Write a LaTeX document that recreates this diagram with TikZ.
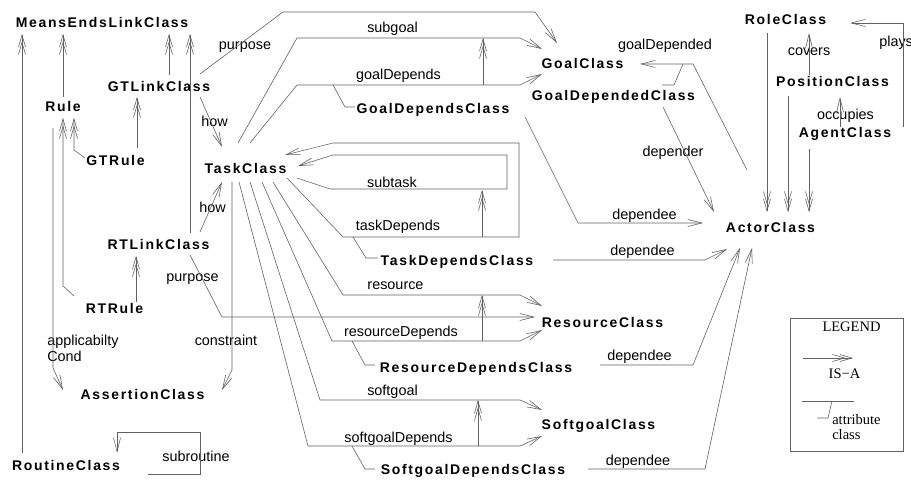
\documentclass[tikz,border=0pt]{standalone}
\usepackage{fontspec}
\setmainfont{Liberation Serif}
\setsansfont{Liberation Sans}
\newfontfamily\clsfont{Liberation Sans}[LetterSpace=12]
\usetikzlibrary{arrows.meta}
\begin{document}
\begin{tikzpicture}[x=1pt,y=-1pt,
  line width=0.6pt,
  color=black!62,
  cls/.style={font=\clsfont\bfseries\fontsize{14}{16}\selectfont, inner sep=0pt, anchor=base, text=black},
  lbl/.style={font=\sffamily\fontsize{14.4}{16}\selectfont, inner sep=0pt, anchor=base, text=black},
  leg/.style={font=\rmfamily\fontsize{14.5}{13}\selectfont, inner sep=0pt, text=black},
  isa/.style={-{Straight Barb[length=12pt,width=7pt,sep=-6pt]Straight Barb[length=12pt,width=7pt]}},
  att/.style={-{Straight Barb[length=14pt,width=7pt]}}]
\useasboundingbox (0,0) rectangle (911,481);

% ---------- class nodes ----------
\node[cls] (MEL) at (102,28) {MeansEndsLinkClass};
\node[cls] (Rule) at (63,112) {Rule};
\node[cls] (GTL) at (159,92) {GTLinkClass};
\node[cls] (GTR) at (115.5,166) {GTRule};
\node[cls] (Task) at (245.5,174) {TaskClass};
\node[cls] (RTL) at (158.5,250) {RTLinkClass};
\node[cls] (RTR) at (114.5,314) {RTRule};
\node[cls] (Assert) at (142.5,399) {AssertionClass};
\node[cls] (Routine) at (66,470) {RoutineClass};
\node[cls] (Goal) at (582.5,69) {GoalClass};
\node[cls] (GDs) at (433,114) {GoalDependsClass};
\node[cls] (GDd) at (613.5,101) {GoalDependedClass};
\node[cls] (Role) at (785.5,25) {RoleClass};
\node[cls] (Pos) at (832.5,87) {PositionClass};
\node[cls] (Agent) at (845,138) {AgentClass};
\node[cls] (Actor) at (770.5,233) {ActorClass};
\node[cls] (TDs) at (457,266) {TaskDependsClass};
\node[cls] (Res) at (602.5,327) {ResourceClass};
\node[cls] (RDs) at (476,372) {ResourceDependsClass};
\node[cls] (Soft) at (598.5,429) {SoftgoalClass};
\node[cls] (SDs) at (473,474) {SoftgoalDependsClass};

% ---------- labels ----------
\node[lbl] (l1) at (245,50) {purpose};
\node[lbl] (l2) at (214.5,127) {how};
\node[lbl] (l3) at (392.5,33) {subgoal};
\node[lbl] (l4) at (398.5,80) {goalDepends};
\node[lbl] (l5) at (392,188) {subtask};
\node[lbl] (l6) at (665,50) {goalDepended};
\node[lbl] (l7) at (809,56) {covers};
\node[lbl,anchor=base west] (l8) at (879,47) {plays};
\node[lbl] (l9) at (845.5,120) {occupies};
\node[lbl] (l10) at (673,157) {depender};
\node[lbl] (l11) at (644.5,220) {dependee};
\node[lbl] (l12) at (642.5,256) {dependee};
\node[lbl] (l13) at (639.5,360) {dependee};
\node[lbl] (l14) at (638,465) {dependee};
\node[lbl] (l15) at (398,231) {taskDepends};
\node[lbl] (l16) at (395.5,290) {resource};
\node[lbl] (l17) at (401,336) {resourceDepends};
\node[lbl] (l18) at (392.5,395) {softgoal};
\node[lbl] (l19) at (398.5,442) {softgoalDepends};
\node[lbl] (l20) at (212.5,213) {how};
\node[lbl] (l21) at (192.5,282) {purpose};
\node[lbl,anchor=north west,align=left] (l22) at (47,335) {applicabilty\\Cond};
\node[lbl] (l23) at (226,345) {constraint};
\node[lbl] (l24) at (196,461) {subroutine};

% ---------- IS-A links ----------
\draw[isa] (22,453) -- (22,34);
\draw[isa] (63,97) -- (63,34);
\draw[isa] (169,75) -- (169,34);
\draw[isa] (190,233) -- (190,34);
\draw[isa] (85,158) -- (74,150) -- (74,118);
\draw[isa] (74,296) -- (63,286) -- (63,118);
\draw[isa] (137,148) -- (137,97);
\draw[isa] (136,302) -- (136,256);
\draw[isa] (767,33) -- (767,212);
\draw[isa] (788,96) -- (788,212);
\draw[isa] (809,149) -- (809,212);
\draw[isa] (483,85) -- (483,38);
\draw[isa] (482,237) -- (482,190);
\draw[isa] (482,341) -- (482,295);
\draw[isa] (478,446) -- (478,400);

% ---------- attribute links ----------
\draw[att] (200,74) -- (283,12) -- (535,12) -- (557,43);
\draw[att] (238,143) -- (297,38) -- (520,38) -- (542,49);
\draw[att] (250,143) -- (297,85) -- (520,85) -- (542,74);
\draw[att] (200,97) -- (222,147);
\draw[att] (200,232) -- (222,182);
\draw[att] (297,178) -- (330,189) -- (507,189) -- (507,155) -- (333,155) -- (298,166);
\draw[att] (287,178) -- (343,237) -- (519,237) -- (519,143) -- (333,143) -- (285,155);
\draw[att] (273,182) -- (343,295) -- (520,295) -- (542,306);
\draw[att] (262,182) -- (332,341) -- (520,341) -- (542,330);
\draw[att] (250,182) -- (320,400) -- (520,400) -- (542,410);
\draw[att] (239,182) -- (308,446) -- (520,446) -- (542,436);
\draw[att] (232,182) -- (232,370) -- (222,390);
\draw[att] (53,128) -- (53,368) -- (63,390);
\draw[att] (190,255) -- (222,317) -- (535,317);
\draw[att] (148,474) -- (200,474) -- (200,432) -- (117,432) -- (117,453);
\draw[att] (525,117) -- (578,223) -- (703,223);
\draw[att] (663,107) -- (714,212);
\draw[att] (747,170) -- (693,64) -- (640,64);
\draw[att] (553,260) -- (705,260) -- (727,249);
\draw[att] (600,365) -- (693,365) -- (740,248);
\draw[att] (588,469) -- (705,469) -- (752,248);
\draw[att] (809,75) -- (809,33);
\draw[att] (840,127) -- (840,97);
\draw[att] (903,127) -- (903,23) -- (850,23);

% ---------- attribute-class markers ----------
\draw (333,85) -- (345,107) -- (355,107);
\draw (683,64) -- (674,85) -- (662,85);
\draw (353,237) -- (366,258) -- (378,258);
\draw (352,341) -- (365,365) -- (375,365);
\draw (352,446) -- (365,469) -- (375,469);

% ---------- legend ----------
\draw (790,318) rectangle (903,451);
\node[leg,anchor=base] (lg) at (851.5,331) {LEGEND};
\draw[isa] (803,358) -- (853,358);
\node[leg,anchor=base] (lgisa) at (844.5,378) {IS−A};
\draw (802,401) -- (854,401);
\draw (832,401) -- (828,418) -- (817,418);
\node[leg,anchor=base west] (lgat) at (832,424) {attribute};
\node[leg,anchor=base west] (lgcl) at (832,439) {class};
\end{tikzpicture}
\end{document}
